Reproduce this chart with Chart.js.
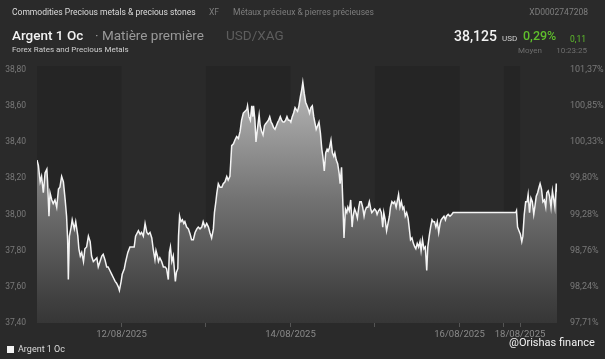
<!DOCTYPE html>
<html>
<head>
<meta charset="utf-8">
<script src="https://cdn.jsdelivr.net/npm/chart.js@4.4.1/dist/chart.umd.min.js"></script>
<style>
  html, body { margin: 0; padding: 0; background: #2a2a2a; }
  body { width: 605px; height: 359px; position: relative; overflow: hidden; font-family: Roboto, "Liberation Sans", sans-serif; }
  .t { position: absolute; white-space: nowrap; line-height: 1; }
  #wrap { position: absolute; left: 0; top: 0; width: 605px; height: 359px; }
</style>
</head>
<body>
<div id="wrap"><canvas id="chart"></canvas></div>

<!-- header -->
<div class="t" style="left:12px;top:8px;font-size:8.5px;color:#dcdcdc;">Commodities Precious metals &amp; precious stones</div>
<div class="t" style="left:209px;top:8px;font-size:8.5px;color:#7e7e7e;">XF</div>
<div class="t" style="left:233px;top:8px;font-size:8.5px;color:#7e7e7e;">Métaux précieux &amp; pierres précieuses</div>
<div class="t" style="right:17px;top:8px;font-size:8.5px;color:#7e7e7e;">XD0002747208</div>

<div class="t" style="left:12px;top:29px;font-size:13.5px;color:#f2f2f2;font-weight:500;">Argent 1 Oc</div>
<div class="t" style="left:95px;top:29px;font-size:13.5px;color:#9a9a9a;">· Matière première</div>
<div class="t" style="left:226px;top:29px;font-size:13.5px;color:#5e5e5e;">USD/XAG</div>

<div class="t" style="left:454px;top:29px;font-size:14px;color:#f2f2f2;font-weight:500;">38,125</div>
<div class="t" style="left:502px;top:35px;font-size:8px;color:#cfcfcf;">USD</div>
<div class="t" style="left:523px;top:30px;font-size:12.5px;color:#5fbf2c;font-weight:500;">0,29%</div>
<div class="t" style="left:570px;top:35px;font-size:8.5px;color:#5fbf2c;">0,11</div>

<div class="t" style="left:12px;top:46px;font-size:8px;color:#d0d0d0;">Forex Rates and Precious Metals</div>
<div class="t" style="left:518px;top:47px;font-size:8px;color:#6e6e6e;">Moyen</div>
<div class="t" style="right:18px;top:47px;font-size:8px;color:#6e6e6e;">10:23:25</div>

<!-- footer -->
<div style="position:absolute;left:7px;top:346px;width:7px;height:7px;background:#f2f2f2;"></div>
<div class="t" style="left:18px;top:345px;font-size:9px;color:#dcdcdc;">Argent 1 Oc</div>
<div class="t" style="left:509px;top:337px;font-size:11px;color:#f2f2f2;">@Orishas finance</div>

<script>
// trading time in hours from the start of the window, price in USD
const hours = [
  0.0, 0.4, 0.9, 1.3, 1.8, 2.3, 2.8, 3.0, 3.4, 3.7, 4.2, 4.6, 5.1, 5.6, 6.1, 6.5, 7.0, 7.5, 8.0, 8.4,
  8.7, 8.9, 9.2, 9.7, 10.0, 10.6, 11.0, 11.6, 11.9, 12.3, 12.7, 13.2, 13.6, 14.1, 14.6, 15.1, 15.5, 16.0, 16.5, 17.0,
  17.4, 17.9, 18.4, 18.8, 19.3, 19.8, 20.2, 20.7, 21.2, 21.7, 22.2, 22.6, 23.1, 23.4, 23.9, 24.2, 24.8, 25.2, 25.8, 26.4,
  27.1, 27.6, 28.0, 28.8, 29.3, 29.7, 30.2, 30.7, 31.2, 31.6, 32.1, 32.6, 33.0, 33.5, 33.8, 34.2, 34.5, 34.9, 35.4, 35.9,
  36.4, 36.8, 37.3, 37.6, 37.9, 38.3, 38.7, 39.0, 39.3, 39.6, 40.0, 40.2, 40.5, 40.9, 41.3, 41.7, 42.0, 42.5, 43.0, 43.5,
  43.9, 44.4, 44.9, 45.4, 45.8, 46.3, 46.8, 47.2, 47.7, 48.2, 48.7, 49.1, 49.6, 50.1, 50.4, 50.8, 51.1, 51.5, 52.0, 52.5,
  52.9, 53.4, 53.9, 54.3, 54.8, 55.3, 55.8, 56.2, 56.7, 57.2, 57.7, 58.1, 58.6, 59.1, 59.6, 59.8, 60.2, 60.6, 61.0, 61.3,
  61.5, 61.9, 62.2, 62.6, 62.9, 63.1, 63.4, 63.8, 64.2, 64.6, 64.9, 65.3, 65.7, 66.1, 66.5, 66.8, 67.2, 67.6, 68.0, 68.4,
  68.7, 69.1, 69.5, 69.9, 70.2, 70.6, 71.0, 71.4, 71.8, 72.1, 72.5, 72.9, 73.3, 73.6, 74.0, 74.4, 74.8, 75.2, 75.5, 75.9,
  76.3, 76.7, 77.1, 77.4, 77.8, 78.2, 78.6, 79.0, 79.3, 79.7, 80.1, 80.5, 80.9, 81.2, 81.6, 82.0, 82.4, 82.7, 83.1, 83.5,
  83.9, 84.3, 84.6, 85.0, 85.4, 85.8, 86.1, 86.5, 86.9, 87.2, 87.6, 88.0, 88.3, 88.7, 89.1, 89.5, 89.8, 90.2, 90.6, 91.0,
  91.4, 91.7, 92.1, 92.5, 92.9, 93.2, 93.6, 94.0, 94.4, 94.8, 95.1, 95.5, 95.9, 96.3, 96.6, 97.0, 97.4, 97.8, 98.2, 98.5,
  98.9, 99.3, 99.7, 100.1, 100.4, 100.8, 101.2, 101.6, 102.0, 102.3, 102.7, 103.1, 103.5, 103.9, 104.2, 104.6, 105.0, 105.4, 105.7, 106.1,
  106.5, 106.9, 107.3, 107.6, 108.0, 108.4, 108.8, 109.1, 109.5, 109.9, 110.3, 110.7, 111.0, 111.4, 111.8, 112.2, 112.5, 112.9, 113.3, 113.7,
  114.1, 114.5, 114.8, 115.2, 115.6, 116.0, 116.3, 116.8, 117.3, 117.8, 118.2, 136.0, 136.2, 136.5, 136.9, 137.3, 137.7, 138.0, 138.4, 138.8,
  139.2, 139.5, 139.9, 140.3, 140.7, 141.1, 141.4, 141.8, 142.2, 142.6, 142.9, 143.3, 143.7, 144.1, 144.5, 144.8, 145.2, 145.6, 146.0, 146.4,
  146.8, 147.1, 147.5, 147.7
];
const prices = [
  38.30, 38.27, 38.18, 38.21, 38.12, 38.23, 38.25, 38.18, 37.99, 38.12, 38.08, 38.06, 38.08, 38.04, 38.14, 38.15, 38.21, 38.18, 38.08, 37.99,
  37.86, 37.64, 37.88, 37.93, 37.97, 37.92, 37.96, 37.88, 37.81, 37.77, 37.79, 37.74, 37.81, 37.82, 37.88, 37.85, 37.77, 37.74, 37.75, 37.76,
  37.71, 37.74, 37.77, 37.78, 37.75, 37.71, 37.71, 37.69, 37.67, 37.65, 37.63, 37.62, 37.60, 37.58, 37.63, 37.67, 37.70, 37.74, 37.79, 37.82,
  37.82, 37.82, 37.88, 37.91, 37.89, 37.90, 37.88, 37.95, 37.90, 37.89, 37.90, 37.87, 37.81, 37.75, 37.80, 37.77, 37.74, 37.76, 37.74, 37.71,
  37.71, 37.70, 37.64, 37.79, 37.82, 37.74, 37.77, 37.70, 37.63, 37.68, 37.70, 37.88, 37.99, 37.96, 37.97, 37.95, 37.96, 37.93, 37.92, 37.89,
  37.86, 37.86, 37.90, 37.92, 37.93, 37.92, 37.93, 37.96, 37.93, 37.95, 37.93, 37.90, 37.87, 37.92, 38.01, 38.07, 38.12, 38.17, 38.15, 38.15,
  38.17, 38.18, 38.21, 38.19, 38.21, 38.38, 38.39, 38.41, 38.43, 38.42, 38.46, 38.52, 38.56, 38.57, 38.58, 38.60, 38.54, 38.52, 38.60, 38.54,
  38.60, 38.52, 38.40, 38.47, 38.52, 38.55, 38.49, 38.46, 38.44, 38.49, 38.50, 38.51, 38.52, 38.54, 38.51, 38.50, 38.48, 38.47, 38.49, 38.51,
  38.52, 38.54, 38.52, 38.51, 38.51, 38.52, 38.54, 38.52, 38.52, 38.51, 38.54, 38.56, 38.59, 38.58, 38.57, 38.60, 38.65, 38.69, 38.73, 38.67,
  38.62, 38.60, 38.58, 38.56, 38.59, 38.60, 38.54, 38.50, 38.47, 38.49, 38.51, 38.45, 38.36, 38.32, 38.24, 38.34, 38.36, 38.35, 38.37, 38.41,
  38.34, 38.32, 38.34, 38.30, 38.28, 38.23, 38.17, 38.26, 38.05, 37.87, 38.03, 38.01, 38.04, 38.02, 38.08, 37.93, 37.99, 38.03, 38.01, 37.98,
  38.04, 38.07, 38.07, 38.04, 37.99, 38.02, 38.04, 38.04, 38.07, 38.03, 38.01, 38.02, 38.03, 38.02, 38.00, 38.02, 38.03, 38.01, 37.93, 38.01,
  37.97, 37.91, 37.95, 37.99, 38.04, 38.07, 38.06, 38.07, 38.04, 38.07, 38.11, 38.04, 38.07, 38.03, 38.04, 37.99, 38.01, 37.98, 37.93, 37.86,
  37.87, 37.84, 37.82, 37.81, 37.84, 37.82, 37.85, 37.80, 37.86, 37.81, 37.82, 37.69, 37.82, 37.88, 37.93, 37.97, 37.96, 37.96, 37.93, 37.96,
  37.90, 37.95, 37.97, 37.98, 37.99, 37.97, 37.99, 38.00, 37.99, 38.00, 38.01, 38.01, 38.02, 37.93, 37.91, 37.89, 37.85, 37.88, 38.00, 38.07,
  38.07, 38.11, 38.01, 38.09, 38.07, 38.00, 38.04, 38.10, 38.12, 38.15, 38.17, 38.14, 38.07, 38.08, 38.04, 38.12, 38.13, 38.10, 38.04, 38.13,
  38.08, 38.04, 38.17, 38.125
];

// axis ticks
const priceTicks = [37.40, 37.60, 37.80, 38.00, 38.20, 38.40, 38.60, 38.80];
const pctLabels = ['97,71%', '98,24%', '98,76%', '99,28%', '99,80%', '100,33%', '100,85%', '101,37%'];
// session boundaries (hours) - shaded alternately
const sessionEdges = [0, 24, 48, 72, 96, 120, 132.6, 137.2, 147.7];
const dateTicks = [24, 48, 72, 96, 120, 132.6, 137.2];
const dateLabels = ['12/08/2025', '', '14/08/2025', '', '16/08/2025', '', '18/08/2025'];

const points = hours.map((h, i) => ({ x: h, y: prices[i] }));

// darker band for every other session, drawn under the area
const sessionBands = {
  id: 'sessionBands',
  beforeDatasetsDraw(chart) {
    const { ctx, chartArea, scales } = chart;
    ctx.save();
    ctx.fillStyle = '#252525';
    for (let i = 0; i < sessionEdges.length - 1; i += 2) {
      const x0 = scales.x.getPixelForValue(sessionEdges[i]);
      const x1 = scales.x.getPixelForValue(sessionEdges[i + 1]);
      ctx.fillRect(x0, chartArea.top, x1 - x0, chartArea.bottom - chartArea.top);
    }
    ctx.restore();
  }
};

function areaFill(context) {
  const { chart } = context;
  const area = chart.chartArea;
  if (!area) return '#888888';
  const g = chart.ctx.createLinearGradient(0, area.top, 0, area.bottom);
  g.addColorStop(0, 'rgb(192,192,192)');
  g.addColorStop(0.17, 'rgb(168,168,168)');
  g.addColorStop(0.52, 'rgb(114,114,114)');
  g.addColorStop(0.91, 'rgb(64,64,64)');
  g.addColorStop(1, 'rgb(54,54,54)');
  return g;
}

const tickFont = { family: 'Roboto, "Liberation Sans", sans-serif', size: 9 };

new Chart(document.getElementById('chart'), {
  type: 'line',
  data: {
    datasets: [{
      label: 'Argent 1 Oc',
      data: points,
      borderColor: '#f4f4f4',
      borderWidth: 1.5,
      pointRadius: 0,
      tension: 0,
      fill: 'start',
      backgroundColor: areaFill
    }]
  },
  options: {
    responsive: true,
    maintainAspectRatio: false,
    animation: false,
    layout: { padding: { top: 66, left: 0, right: 0, bottom: 0 } },
    plugins: { legend: { display: false }, tooltip: { enabled: false } },
    scales: {
      x: {
        type: 'linear',
        min: 0,
        max: 147.7,
        afterBuildTicks: (scale) => { scale.ticks = dateTicks.map(v => ({ value: v })); },
        afterFit: (scale) => { scale.height = 36; },
        grid: { display: true, drawOnChartArea: false, drawTicks: true, tickLength: 4, color: '#555555' },
        border: { display: false },
        ticks: {
          autoSkip: false,
          maxRotation: 0,
          padding: 2,
          color: '#8a8a8a',
          font: { family: tickFont.family, size: 9.5 },
          callback: (v, i) => dateLabels[i]
        }
      },
      y: {
        position: 'left',
        min: 37.40,
        max: 38.82,
        afterBuildTicks: (scale) => { scale.ticks = priceTicks.map(v => ({ value: v })); },
        afterFit: (scale) => { scale.width = 37; },
        grid: { display: false },
        border: { display: false },
        ticks: {
          padding: 3,
          color: '#7a7a7a',
          font: { family: tickFont.family, size: 8.5 },
          callback: (v) => v.toFixed(2).replace('.', ',')
        }
      },
      y2: {
        position: 'right',
        min: 37.40,
        max: 38.82,
        afterBuildTicks: (scale) => { scale.ticks = priceTicks.map(v => ({ value: v })); },
        afterFit: (scale) => { scale.width = 48; },
        grid: { display: false },
        border: { display: false },
        ticks: {
          padding: 5,
          color: '#7a7a7a',
          font: tickFont,
          callback: (v, i) => pctLabels[i]
        }
      }
    }
  },
  plugins: [sessionBands]
});
</script>
</body>
</html>
